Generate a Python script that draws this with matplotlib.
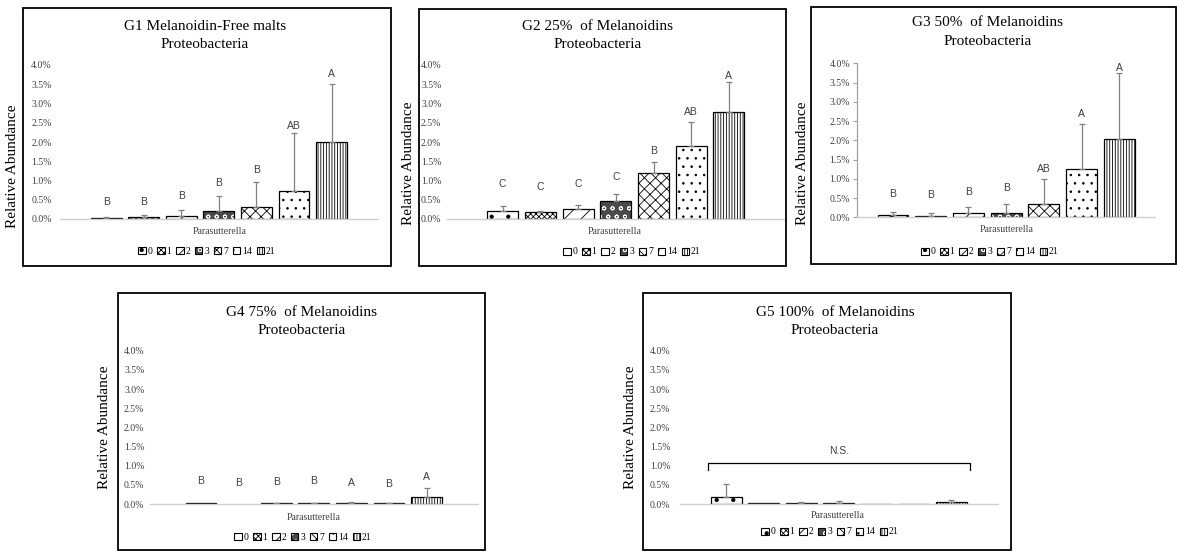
import numpy as np
import matplotlib
matplotlib.use("Agg")
import matplotlib.pyplot as plt
from matplotlib.patches import Patch, Rectangle
from matplotlib.legend_handler import HandlerTuple

W, H = 1177, 551
SERIF = "Liberation Serif"
SANS = "Liberation Sans"

plt.rcParams["hatch.linewidth"] = 0.6

# Sampling days (series) and the single genus shown on the x axis
DAYS = ["0", "1", "2", "3", "7", "14", "21"]
GENUS = "Parasutterella"

# Mean relative abundance (%) per day, upper error bar end (%), letters and letter heights (%)
G1_MEAN = [0.02, 0.04, 0.08, 0.20, 0.32, 0.74, 2.00]
G1_TOP = [0.04, 0.10, 0.23, 0.60, 0.97, 2.24, 3.50]
G1_LET = ["B", "B", "B", "B", "B", "AB", "A"]
G1_LET_Y = [0.43, 0.43, 0.61, 0.93, 1.27, 2.42, 3.77]

G2_MEAN = [0.22, 0.17, 0.25, 0.48, 1.19, 1.90, 2.79]
G2_TOP = [0.35, 0.22, 0.37, 0.64, 1.48, 2.53, 3.57]
G2_LET = ["C", "C", "C", "C", "B", "AB", "A"]
G2_LET_Y = [0.91, 0.84, 0.91, 1.10, 1.77, 2.79, 3.71]

G3_MEAN = [0.05, 0.03, 0.10, 0.12, 0.34, 1.26, 2.03]
G3_TOP = [0.13, 0.10, 0.28, 0.34, 1.00, 2.42, 3.76]
G3_LET = ["B", "B", "B", "B", "AB", "A", "A"]
G3_LET_Y = [0.60, 0.57, 0.67, 0.75, 1.26, 2.68, 3.87]

G4_MEAN = [0.03, 0.0, 0.02, 0.02, 0.03, 0.02, 0.18]
G4_TOP = [0.03, 0.0, 0.03, 0.03, 0.05, 0.03, 0.41]
G4_LET = ["B", "B", "B", "B", "A", "B", "A"]
G4_LET_Y = [0.60, 0.54, 0.58, 0.60, 0.54, 0.52, 0.71]

G5_MEAN = [0.17, 0.02, 0.03, 0.03, 0.01, 0.01, 0.05]
G5_TOP = [0.52, 0.02, 0.05, 0.09, 0.01, 0.01, 0.10]
G5_LET = None
G5_LET_Y = None
G5_BRACKET = (1.08, 0.90)  # bracket level and tick ends (%)
G5_NS_Y = 1.39

TITLES = ["G1 Melanoidin-Free malts", "G2 25%  of Melanoidins", "G3 50%  of Melanoidins",
          "G4 75%  of Melanoidins", "G5 100%  of Melanoidins"]
SUBTITLE = "Proteobacteria"

# bar styles: (facecolor, hatch, hatch colour)
STYLES = [
    ("white", ".", "black"),
    ("white", "xxxxxx", "black"),
    ("white", "//", "black"),
    ("#4a4a4a", "oo", "white"),
    ("white", "xxx", "black"),
    ("white", "..", "black"),
    ("white", "||||||", "black"),
]

# panel layout in pixels
PANELS = [
    dict(box=(23, 8, 391, 266), axl=60, y0=219, y4=65, first=106.2, step=37.55, pad=6,
         title=(205, 27), ylab=(13, 166), xlab=(220, 232), leg=(207, 251), yaxis=False),
    dict(box=(419, 9, 786, 266), axl=447, y0=219, y4=65, first=502.7, step=37.7, pad=4,
         title=(598, 27), ylab=(408, 163), xlab=(615, 232), leg=(632, 252), yaxis=False),
    dict(box=(811, 7, 1176, 264), axl=857, y0=217.3, y4=63.3, first=893, step=37.7, pad=2,
         title=(988, 23), ylab=(802, 163), xlab=(1007, 229), leg=(990, 252), yaxis=True),
    dict(box=(118, 293, 485, 550), axl=150, y0=504, y4=350.7, first=201, step=37.6, pad=4,
         title=(302, 313), ylab=(104, 427), xlab=(314, 517), leg=(303, 537), yaxis=False),
    dict(box=(643, 293, 1011, 550), axl=680, y0=504, y4=350.7, first=726.3, step=37.5, pad=7,
         title=(835, 312), ylab=(630, 427), xlab=(838, 515), leg=(830, 532), yaxis=False),
]

GROUPS = [
    (G1_MEAN, G1_TOP, G1_LET, G1_LET_Y),
    (G2_MEAN, G2_TOP, G2_LET, G2_LET_Y),
    (G3_MEAN, G3_TOP, G3_LET, G3_LET_Y),
    (G4_MEAN, G4_TOP, G4_LET, G4_LET_Y),
    (G5_MEAN, G5_TOP, G5_LET, G5_LET_Y),
]


def fx(px):
    return px / W


def fy(py):
    return 1 - py / H


def draw_bars(ax, x, heights, width):
    for i, (fc, hatch, hc) in enumerate(STYLES):
        if heights[i] <= 0:
            continue
        if hc == "white":
            ax.bar(x[i], heights[i], width, color=fc, edgecolor="white", hatch=hatch, linewidth=0)
            ax.bar(x[i], heights[i], width, fill=False, edgecolor="black", linewidth=0.9)
        else:
            ax.bar(x[i], heights[i], width, color=fc, edgecolor="black", hatch=hatch, linewidth=0.9)


def legend_handles():
    handles = []
    for fc, hatch, hc in STYLES:
        if hc == "white":
            handles.append((Patch(facecolor=fc, edgecolor="white", hatch=hatch, linewidth=0),
                            Patch(fill=False, edgecolor="black", linewidth=0.8)))
        else:
            handles.append(Patch(facecolor=fc, edgecolor="black", hatch=hatch, linewidth=0.8))
    return handles


fig = plt.figure(figsize=(W / 100, H / 100), dpi=100)

yticks = np.arange(0, 4.01, 0.5)

for p, (mean, top, letters, let_y), title in zip(PANELS, GROUPS, TITLES):
    n = len(DAYS)
    pad = (p["first"] - p["axl"]) / p["step"]
    width_px = (n - 1 + 2 * pad) * p["step"]
    ax = fig.add_axes([fx(p["axl"]), fy(p["y0"]), width_px / W, (p["y0"] - p["y4"]) / H])
    ax.set_xlim(-pad, n - 1 + pad)
    ax.set_ylim(0, 4.0)

    x = np.arange(n)
    mean = np.array(mean)
    top = np.array(top)
    draw_bars(ax, x, mean, 0.82)

    has_err = top > mean
    ax.errorbar(x[has_err], mean[has_err], yerr=[np.zeros(has_err.sum()), (top - mean)[has_err]],
                fmt="none", ecolor="#808080", elinewidth=0.9, capsize=2.5, capthick=0.9)

    if letters is not None:
        for xi, lab, ly in zip(x, letters, let_y):
            ax.text(xi, ly, lab, ha="center", va="center", fontsize=7.5,
                    family=SANS, color="#404040", clip_on=False)
    else:
        lvl, tick_end = G5_BRACKET
        ax.plot([-0.5, -0.5, n - 0.5, n - 0.5], [tick_end, lvl, lvl, tick_end],
                color="black", lw=0.9, clip_on=False)
        ax.text((n - 1) / 2, G5_NS_Y, "N.S.", ha="center", va="center", fontsize=7.5,
                family=SANS, color="#404040")

    ax.set_yticks(yticks)
    ax.set_yticklabels([f"{v:.1f}%" for v in yticks], family=SERIF, fontsize=7, color="#404040")
    ax.set_xticks([])
    for s in ["top", "right"]:
        ax.spines[s].set_visible(False)
    ax.spines["bottom"].set_color("#d0d0d0")
    ax.spines["bottom"].set_linewidth(1.0)
    if p["yaxis"]:
        ax.spines["left"].set_color("#a0a0a0")
        ax.spines["left"].set_linewidth(0.9)
        ax.tick_params(axis="y", length=3, color="#a0a0a0", pad=p["pad"])
    else:
        ax.spines["left"].set_visible(False)
        ax.tick_params(axis="y", length=0, pad=p["pad"])
    ax.patch.set_alpha(0)

    # panel frame and texts
    l, t, r, b = p["box"]
    fig.patches.append(Rectangle((fx(l), fy(b)), (r - l) / W, (b - t) / H, transform=fig.transFigure,
                                 fill=False, edgecolor="black", linewidth=1.3))
    tx, ty = p["title"]
    fig.text(fx(tx), fy(ty), title, ha="center", va="center", fontsize=11, family=SERIF)
    fig.text(fx(tx), fy(ty + 18), SUBTITLE, ha="center", va="center", fontsize=11, family=SERIF)
    fig.text(fx(p["ylab"][0]), fy(p["ylab"][1]), "Relative Abundance", rotation=90,
             ha="center", va="center", fontsize=11, family=SERIF)
    fig.text(fx(p["xlab"][0]), fy(p["xlab"][1]), GENUS, ha="center", va="center",
             fontsize=7, family=SERIF, color="#404040")
    ax.legend(legend_handles(), DAYS, loc="center", bbox_to_anchor=(fx(p["leg"][0]), fy(p["leg"][1])),
              bbox_transform=fig.transFigure, ncol=7, frameon=False,
              prop=dict(family=SERIF, size=7), handlelength=0.75, handleheight=0.75,
              handletextpad=0.2, columnspacing=0.5, borderpad=0,
              handler_map={tuple: HandlerTuple(ndivide=1)})

fig.savefig("out.png", dpi=100)
